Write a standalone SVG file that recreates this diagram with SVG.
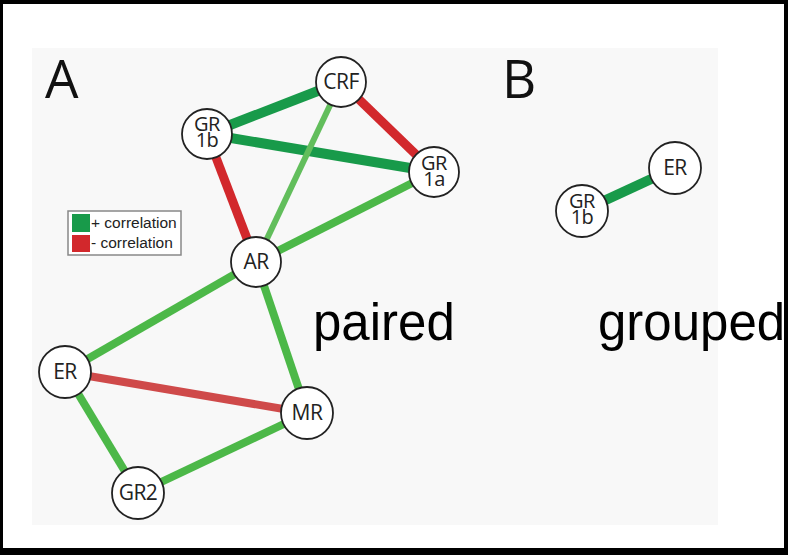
<svg xmlns="http://www.w3.org/2000/svg" width="788" height="555" viewBox="0 0 788 555">
<style>
.node circle{fill:#fff;stroke:#222;stroke-width:1.8}
.node text{font-family:"Open Sans","Noto Sans",sans-serif;font-size:21px;fill:#222;text-anchor:middle;letter-spacing:-0.5px}
.node text.two{font-size:20px}
.edge{fill:none;stroke-linecap:butt}
.dg{stroke:#189a4a;stroke-width:10}
.lg{stroke:#4cb848;stroke-width:8}
.lg2{stroke:#62be5c;stroke-width:6}
.rd{stroke:#d2282c;stroke-width:9}
.rd2{stroke:#cf4a4a;stroke-width:8}
.big{font-family:"Open Sans","Noto Sans",sans-serif;font-size:53px;fill:#111}
.lbl{font-family:"Liberation Sans",Arial,sans-serif;font-size:51px;fill:#000}
.leg{font-family:"Liberation Sans",Arial,sans-serif;font-size:15.5px;fill:#222}
</style>
<rect x="0" y="0" width="788" height="555" fill="#000"/>
<rect x="3" y="4" width="781" height="544" fill="#fff"/>
<rect x="32" y="48" width="686" height="477" fill="#f8f8f8"/>
<text class="big" x="45" y="98">A</text>
<text class="big" x="502" y="98">B</text>
<g id="legend">
<rect x="68" y="211" width="113" height="44" fill="#fff" stroke="#888" stroke-width="1.5"/>
<rect x="72" y="214" width="18" height="18" fill="#189a4a"/>
<rect x="72" y="235" width="18" height="17" fill="#d2282c"/>
<text class="leg" x="91" y="228">+ correlation</text>
<text class="leg" x="91" y="248">- correlation</text>
</g>
<g id="connectors">
<line class="edge dg" x1="207" y1="134" x2="341" y2="82"/>
<line class="edge dg" x1="207" y1="134" x2="434" y2="172"/>
<line class="edge rd" x1="341" y1="82" x2="434" y2="172"/>
<line class="edge lg2" x1="341" y1="82" x2="256" y2="262"/>
<line class="edge rd" x1="207" y1="134" x2="256" y2="262"/>
<line class="edge lg" x1="434" y1="172" x2="256" y2="262"/>
<line class="edge lg" x1="256" y1="262" x2="65" y2="372"/>
<line class="edge lg" x1="256" y1="262" x2="307" y2="413"/>
<line class="edge rd2" x1="65" y1="372" x2="307" y2="413"/>
<line class="edge lg" x1="65" y1="372" x2="138" y2="493"/>
<line class="edge lg" x1="138" y1="493" x2="307" y2="413"/>
<line class="edge dg" x1="582" y1="211" x2="675" y2="168"/>
</g>
<g id="node-CRF" class="node"><circle cx="341" cy="82" r="25"/><text x="341" y="89">CRF</text></g>
<g id="node-GR1b" class="node"><circle cx="207" cy="134" r="25"/><text class="two" x="207" y="131">GR<tspan x="207" dy="16">1b</tspan></text></g>
<g id="node-GR1a" class="node"><circle cx="434" cy="172" r="25"/><text class="two" x="434" y="170">GR<tspan x="434" dy="16">1a</tspan></text></g>
<g id="node-AR" class="node"><circle cx="256" cy="262" r="25"/><text x="256" y="269">AR</text></g>
<g id="node-ER" class="node"><circle cx="65" cy="372" r="26"/><text x="65" y="379">ER</text></g>
<g id="node-MR" class="node"><circle cx="307" cy="413" r="26"/><text x="307" y="420">MR</text></g>
<g id="node-GR2" class="node"><circle cx="138" cy="493" r="26"/><text x="138" y="500">GR2</text></g>
<g id="node-B-ER" class="node"><circle cx="675" cy="168" r="26"/><text x="675" y="175">ER</text></g>
<g id="node-B-GR1b" class="node"><circle cx="582" cy="211" r="26"/><text class="two" x="582" y="208">GR<tspan x="582" dy="16">1b</tspan></text></g>
<text class="lbl" x="313" y="340">paired</text>
<text class="lbl" x="598" y="340">grouped</text>
</svg>
